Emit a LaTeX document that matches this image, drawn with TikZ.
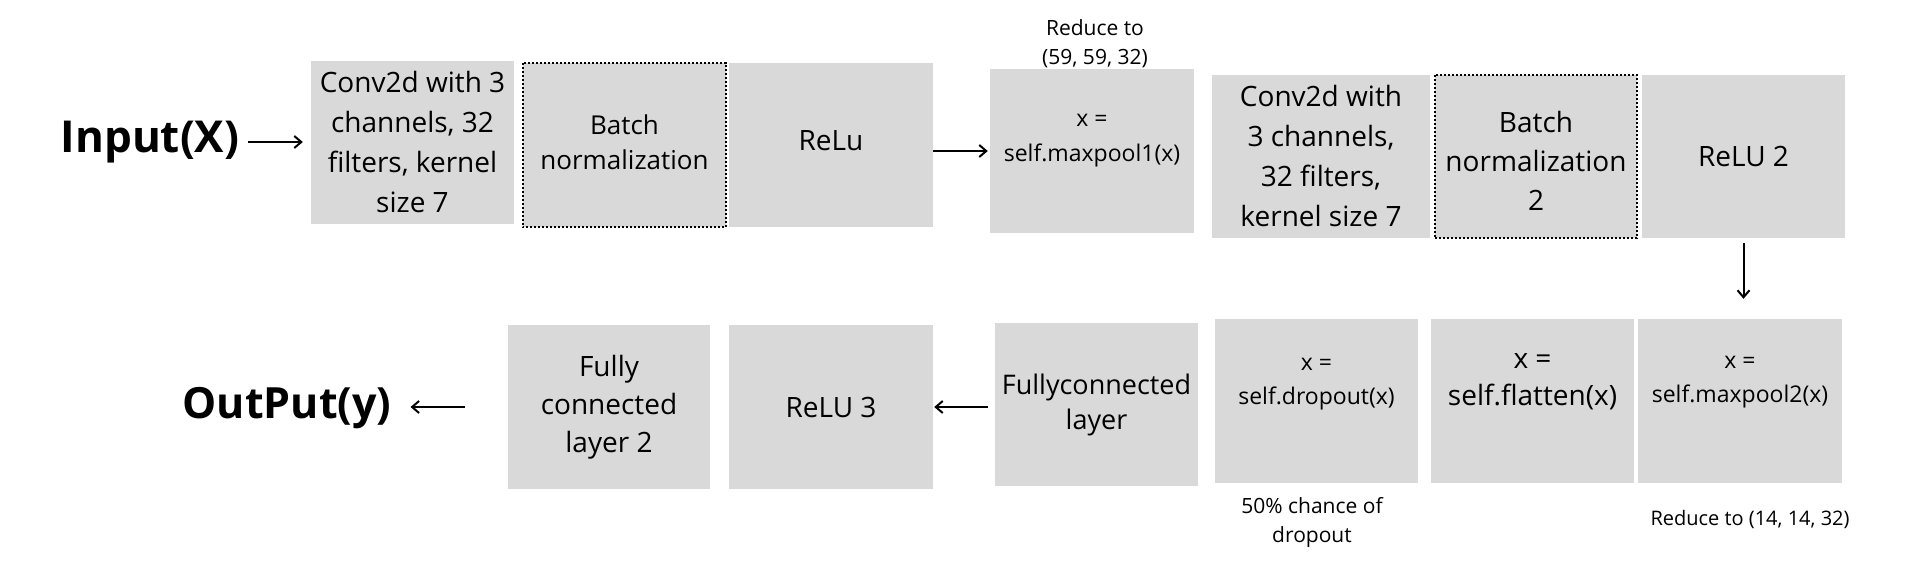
\documentclass[tikz,border=0pt]{standalone}
\usepackage{fontspec}
\setmainfont{Open Sans}
\usetikzlibrary{arrows.meta}
\definecolor{boxgray}{HTML}{D9D9D9}
\newcommand{\fs}[2]{\fontsize{#1}{#2}\selectfont}
\tikzset{
  box/.style={fill=boxgray, draw=none, inner sep=0pt, align=center, text=black},
  dotbox/.style={box, draw=black, line width=2pt, dash pattern=on 2pt off 2pt},
  lbl/.style={inner sep=0pt, align=center, text=black},
  arr/.style={line width=2pt, -{Straight Barb[length=7pt,width=12pt]}},
}
\begin{document}
\begin{tikzpicture}[x=1pt,y=-1pt]
\useasboundingbox (0,0) rectangle (1920,569);
% top row
\node[lbl, font=\fs{44}{50}\bfseries] (inp) at (150,142) {Input(X)};
\node[box, minimum width=203pt, minimum height=163pt, font=\fs{28}{40}] (conv1) at (412.5,142.5) {Conv2d with 3\\channels, 32\\filters, kernel\\size 7};
\node[box, minimum width=203pt, minimum height=164pt] (bn1) at (624.5,145) {};
\draw[dotbox] (bn1.north west) rectangle (bn1.south east);
\node[lbl, font=\fs{26}{35}] (bn1t) at (624.5,142) {Batch\\normalization};
\node[box, minimum width=204pt, minimum height=164pt] (relu1) at (831,145) {};
\node[lbl, font=\fs{28}{40}] (relu1t) at (831,141) {ReLu};
\node[box, minimum width=204pt, minimum height=164pt] (mp1) at (1092,151) {};
\node[lbl, font=\fs{23}{35}] (mp1t) at (1092,141) {x =\\self.maxpool1(x)};
\node[lbl, font=\fs{21}{29}] (red1) at (1095,44) {Reduce to\\(59, 59, 32)};
\node[box, minimum width=218pt, minimum height=163pt, font=\fs{28}{40}] (conv2) at (1321,156.5) {Conv2d with\\3 channels,\\32 filters,\\kernel size 7};
\node[box, minimum width=202pt, minimum height=163pt] (bn2) at (1536,156.5) {};
\draw[dotbox] (bn2.north west) rectangle (bn2.south east);
\node[lbl, font=\fs{28}{39}] (bn2t) at (1536,161) {Batch\\normalization\\2};
\node[box, minimum width=203pt, minimum height=163pt, font=\fs{28}{40}] (relu2) at (1743.5,156.5) {ReLU 2};
% bottom row
\node[box, minimum width=204pt, minimum height=164pt] (mp2) at (1740,401) {};
\node[lbl, font=\fs{23}{34}] (mp2t) at (1740,382) {x =\\self.maxpool2(x)};
\node[lbl, font=\fs{20}{26}] (red2) at (1750,519) {Reduce to (14, 14, 32)};
\node[box, minimum width=203pt, minimum height=164pt] (flat) at (1532.5,401) {};
\node[lbl, font=\fs{28}{37}] (flatt) at (1532.5,382) {x =\\self.flatten(x)};
\node[box, minimum width=203pt, minimum height=164pt] (drop) at (1316.5,401) {};
\node[lbl, font=\fs{23}{34}] (dropt) at (1316.5,384) {x =\\self.dropout(x)};
\node[lbl, font=\fs{21}{29}] (dropn) at (1312,522) {50\% chance of\\dropout};
\node[box, minimum width=203pt, minimum height=163pt, font=\fs{27}{35}] (fc) at (1096.5,404.5) {Fullyconnected\\layer};
\node[box, minimum width=204pt, minimum height=164pt, font=\fs{28}{40}] (relu3) at (831,407) {ReLU 3};
\node[box, minimum width=202pt, minimum height=164pt, font=\fs{28}{38}] (fc2) at (609,407) {Fully\\connected\\layer 2};
\node[lbl, font=\fs{43}{50}\bfseries] (out) at (287,408) {OutPut(y)};
% connectors
\draw[arr] ([xshift=9pt]inp.east) -- ([xshift=-8pt]inp.east -| conv1.west);
\draw[arr] (relu1.east |- mp1.west) -- ([xshift=-2pt]mp1.west);
\draw[arr] ([yshift=-5pt]relu2.south) -- ([yshift=20pt]relu2.south |- mp2.north);
\draw[arr] ([xshift=-7pt]fc.west |- relu3.east) -- ([xshift=1pt]relu3.east);
\draw[arr] ([xshift=-43pt]fc2.west) -- ([xshift=19pt]fc2.west -| out.east);
\end{tikzpicture}
\end{document}
